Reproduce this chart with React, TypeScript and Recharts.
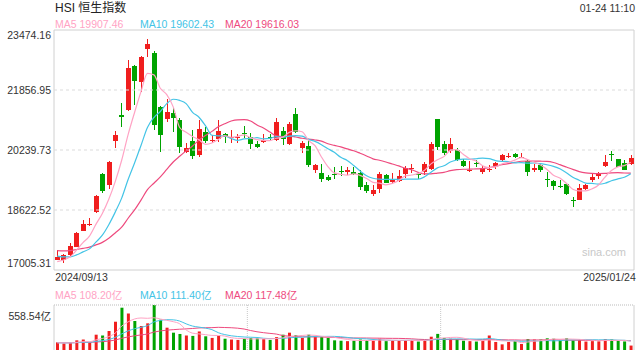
import React from 'react';
import { ComposedChart, Bar, Line, XAxis, YAxis, ReferenceLine, ReferenceArea, Cell } from 'recharts';

const DATES = [
  '2024/09/13','2024/09/16','2024/09/17','2024/09/19','2024/09/20','2024/09/23','2024/09/24','2024/09/25','2024/09/26','2024/09/27','2024/09/30',
  '2024/10/02','2024/10/03','2024/10/04','2024/10/07','2024/10/08','2024/10/09','2024/10/10','2024/10/14','2024/10/15','2024/10/16','2024/10/17','2024/10/18',
  '2024/10/21','2024/10/22','2024/10/23','2024/10/24','2024/10/25','2024/10/28','2024/10/29','2024/10/30','2024/10/31',
  '2024/11/01','2024/11/04','2024/11/05','2024/11/06','2024/11/07','2024/11/08','2024/11/11','2024/11/12','2024/11/13','2024/11/14','2024/11/15',
  '2024/11/18','2024/11/19','2024/11/20','2024/11/21','2024/11/22','2024/11/25','2024/11/26','2024/11/27','2024/11/28','2024/11/29',
  '2024/12/02','2024/12/03','2024/12/04','2024/12/05','2024/12/06','2024/12/09','2024/12/10','2024/12/11','2024/12/12','2024/12/13',
  '2024/12/16','2024/12/17','2024/12/18','2024/12/19','2024/12/20','2024/12/23','2024/12/24','2024/12/27','2024/12/30','2024/12/31',
  '2025/01/02','2025/01/03','2025/01/06','2025/01/07','2025/01/08','2025/01/09','2025/01/10','2025/01/13','2025/01/14','2025/01/15',
  '2025/01/16','2025/01/17','2025/01/20','2025/01/21','2025/01/22','2025/01/23','2025/01/24',
];

const OPEN = [
  17300,17300,17410,17640,18070,18230,18570,19590,19300,20460,21180,
  21320,22510,22050,22960,22860,21400,21050,21230,21050,20170,20490,20110,
  20730,20480,20550,20680,20560,20590,20710,20580,20400,
  20440,20580,20530,20760,20420,21200,20280,20350,19690,19610,19520,
  19600,19680,19650,19660,19610,19300,19050,19190,19570,19360,
  19420,19590,19720,19580,19660,19750,21070,20400,20220,20240,
  19940,19690,19880,19640,19700,19810,19950,20070,20130,20050,
  19930,19700,19830,19470,19410,19260,19330,18900,18910,19190,
  19450,19520,19820,20130,19990,19900,19860,
];
const HIGH = [
  17540,17430,17730,18040,18350,18410,19020,19630,19950,20750,21510,
  22670,22530,22760,23241,22920,21420,21610,21370,21100,20420,20780,21060,
  20850,20640,21060,20710,20780,20670,20890,20690,20480,
  20660,20660,21100,20850,21000,21360,20470,20530,19870,19860,19570,
  19790,19800,19790,19780,19700,19390,19300,19660,19600,19630,
  19700,19800,19850,19620,19920,20460,21080,20490,20560,20290,
  20010,19950,19960,19800,19840,19920,20130,20160,20160,20160,
  19960,19870,19860,19660,19440,19420,19360,18980,19330,19330,
  19580,19650,20100,20220,20010,19960,20100,
];
const LOW = [
  17270,17190,17390,17620,18060,18200,18550,19090,19180,20285,20870,
  21300,21450,21810,22750,20780,20190,21000,20730,20150,20150,19995,20060,
  20420,20420,20460,20440,20440,20440,20570,20270,20290,
  20420,20480,20490,20370,20380,20700,20150,19770,19610,19390,19400,
  19450,19550,19560,19560,19150,19090,19000,19080,19340,19330,
  19380,19480,19620,19470,19560,19700,20250,20100,20150,19930,
  19770,19660,19790,19600,19640,19740,19930,20020,20020,20020,
  19540,19660,19650,19250,19150,19220,19040,18690,18880,19150,
  19380,19450,19780,19930,19770,19690,19840,
];
const CLOSE = [
  17369,17422,17660,18013,18258,18247,19000,19129,19925,20632,21134,
  22444,22114,22737,23100,20927,20637,21252,21093,20319,20287,20079,20804,
  20478,20499,20760,20590,20590,20599,20701,20381,20317,
  20506,20568,21007,20538,20953,20728,20427,19847,19823,19436,19426,
  19577,19664,19705,19601,19230,19151,19159,19603,19367,19424,
  19550,19746,19742,19560,19866,20414,20311,20155,20397,19971,
  19795,19700,19865,19753,19721,19883,20098,20090,20041,20060,
  19623,19760,19688,19448,19280,19241,19064,18874,19220,19286,
  19523,19584,19926,20107,19779,19701,20026,
];
// turnover, 亿
const VOLUME = [
  95,80,90,120,130,95,190,180,236,351,525,
  453,360,298,331,558.54,376,277,215,199,180,175,230,
  170,150,175,140,130,125,140,150,145,
  135,125,160,190,215,185,150,190,170,160,150,
  120,115,110,115,130,120,115,140,110,120,
  115,120,125,105,125,165,200,150,140,135,
  115,110,105,115,180,100,70,100,110,75,
  135,130,130,145,140,125,145.6,120,130,105,
  110,108,135,130,115,106,55,
];
// the 19 sessions before 2024/09/13, used to seed the moving averages
const PRIOR_CLOSE = [17570,17511,17391,17641,17612,17799,17755,17692,17786,17989,17651,17651,17457,17444,17444,17197,17234,17109,17240];
const PRIOR_VOLUME = [92,88,85,95,90,84,98,96,88,92,105,90,86,94,88,80,96,85,90];

const PRICE_TICKS = [17005.31, 18622.52, 20239.73, 21856.95, 23474.16];
const VOLUME_TICKS = [0, 558.54];
const PRICE_LEGEND = [['MA5', '19907.46'], ['MA10', '19602.43'], ['MA20', '19616.03']];
const VOLUME_LEGEND = [['MA5', '108.20亿'], ['MA10', '111.40亿'], ['MA20', '117.48亿']];

const RED = '#f01e1e';
const GREEN = '#00a300';
const MA_COLORS = ['#ffa3c4', '#44c4e6', '#ee4a7e'];
const FONT = '"Liberation Sans", Arial, "Noto Sans CJK SC", sans-serif';

function movingAverage(prior: number[], values: number[], n: number): number[] {
  const all = prior.concat(values);
  return values.map((_, i) => {
    const end = prior.length + i + 1;
    const start = Math.max(0, end - n);
    let s = 0;
    for (let k = start; k < end; k++) s += all[k];
    return s / (end - start);
  });
}

const cMa5 = movingAverage(PRIOR_CLOSE, CLOSE, 5);
const cMa10 = movingAverage(PRIOR_CLOSE, CLOSE, 10);
const cMa20 = movingAverage(PRIOR_CLOSE, CLOSE, 20);
const vMa5 = movingAverage(PRIOR_VOLUME, VOLUME, 5);
const vMa10 = movingAverage(PRIOR_VOLUME, VOLUME, 10);
const vMa20 = movingAverage(PRIOR_VOLUME, VOLUME, 20);

const rows = DATES.map((date, i) => ({
  date,
  open: OPEN[i],
  high: HIGH[i],
  low: LOW[i],
  close: CLOSE[i],
  range: [LOW[i], HIGH[i]],
  ma5: cMa5[i],
  ma10: cMa10[i],
  ma20: cMa20[i],
  vol: VOLUME[i],
  vma5: vMa5[i],
  vma10: vMa10[i],
  vma20: vMa20[i],
}));

const Candle = (props: any) => {
  const { x, y, width, height, payload } = props;
  if (x == null || y == null) return null;
  const { open, close, high, low } = payload;
  const top = Math.min(y, y + height);
  const h = Math.abs(height);
  const span = high - low || 1;
  const pos = (v: number) => top + ((high - v) / span) * h;
  const yo = pos(open);
  const yc = pos(close);
  const color = close >= open ? RED : GREEN;
  const cx = Math.floor(x + width / 2) + 0.5;
  const bTop = Math.round(Math.min(yo, yc));
  const bH = Math.max(1, Math.round(Math.abs(yo - yc)));
  return (
    <g shapeRendering="crispEdges">
      <line x1={cx} x2={cx} y1={top} y2={top + h} stroke={color} strokeWidth={1} />
      <rect x={cx - 2.5} y={bTop} width={5} height={bH} fill={color} />
    </g>
  );
};

const PriceTick = (props: any) => {
  const { x, y, payload } = props;
  const v = payload.value;
  let dy = 4;
  if (v === PRICE_TICKS[0]) dy = -3;
  if (v === PRICE_TICKS[PRICE_TICKS.length - 1]) dy = 9;
  return (
    <text x={x - 3} y={y + dy} textAnchor="end" fontSize={10.5} fill="#333" fontFamily={FONT}>
      {v.toFixed(2)}
    </text>
  );
};

const VolumeTick = (props: any) => {
  const { x, y, payload } = props;
  const v = payload.value;
  const isTop = v === VOLUME_TICKS[VOLUME_TICKS.length - 1];
  return (
    <text x={x - 3} y={y + (isTop ? 11 : -2)} textAnchor="end" fontSize={10.5} fill="#333" fontFamily={FONT}>
      {isTop ? `${v.toFixed(2)}亿` : '0'}
    </text>
  );
};

const DateTick = (props: any) => {
  const { x, y, payload } = props;
  const first = payload.value === DATES[0];
  return (
    <text x={first ? x - 2 : x + 5} y={y + 11} textAnchor={first ? 'start' : 'end'} fontSize={10.5} fill="#333" fontFamily={FONT}>
      {payload.value}
    </text>
  );
};

const Legend = ({ items, top }: { items: string[][]; top: number }) => {
  const lefts = [55, 140, 225];
  return (
    <>
      {items.map((it, i) => (
        <div
          key={it[0]}
          style={{ position: 'absolute', left: lefts[i], top, height: 14, lineHeight: '14px', fontSize: 10.5, color: MA_COLORS[i], fontFamily: FONT, whiteSpace: 'nowrap' }}
        >
          {it[0]} {it[1]}
        </div>
      ))}
    </>
  );
};

export default function App() {
  return (
    <div style={{ position: 'absolute', left: 0, top: 0, width: 640, height: 360, background: '#fff', fontFamily: FONT }}>
      <div style={{ position: 'absolute', left: 55, top: 1, height: 14, lineHeight: '14px', fontSize: 12, color: '#222' }}>HSI 恒生指数</div>
      <div style={{ position: 'absolute', right: 5, top: 1, height: 14, lineHeight: '14px', fontSize: 10.5, color: '#333' }}>01-24 11:10</div>
      <Legend items={PRICE_LEGEND} top={17} />

      <div style={{ position: 'absolute', left: 0, top: 0 }}>
        <ComposedChart width={640} height={290} data={rows} margin={{ top: 30, right: 6, bottom: 4, left: 0 }}>
          <XAxis
            dataKey="date"
            height={16}
            axisLine={false}
            tickLine={false}
            tickSize={0}
            tickMargin={0}
            interval={0}
            ticks={[DATES[0], DATES[DATES.length - 1]]}
            tick={<DateTick />}
          />
          <YAxis
            type="number"
            width={54}
            domain={[PRICE_TICKS[0], PRICE_TICKS[PRICE_TICKS.length - 1]]}
            ticks={PRICE_TICKS}
            allowDataOverflow
            axisLine={false}
            tickLine={false}
            tickSize={0}
            tickMargin={0}
            tick={<PriceTick />}
          />
          {PRICE_TICKS.slice(1, -1).map((v) => (
            <ReferenceLine key={v} y={v} stroke="#dcdcdc" strokeDasharray="3 3" strokeWidth={1.2} />
          ))}
          <ReferenceArea
            y1={PRICE_TICKS[0]}
            y2={PRICE_TICKS[PRICE_TICKS.length - 1]}
            fill="none"
            fillOpacity={0}
            stroke="#d0d0d0"
            strokeWidth={1}
          />
          <Bar dataKey="range" barSize={5} shape={Candle} isAnimationActive={false} />
          <Line dataKey="ma20" stroke={MA_COLORS[2]} strokeWidth={1.2} dot={false} isAnimationActive={false} type="monotone" />
          <Line dataKey="ma10" stroke={MA_COLORS[1]} strokeWidth={1.2} dot={false} isAnimationActive={false} type="monotone" />
          <Line dataKey="ma5" stroke={MA_COLORS[0]} strokeWidth={1.2} dot={false} isAnimationActive={false} type="monotone" />
        </ComposedChart>
      </div>

      <div style={{ position: 'absolute', left: 582, top: 245, height: 14, lineHeight: '14px', fontSize: 11, color: '#c8c8c8' }}>sina.com</div>

      <Legend items={VOLUME_LEGEND} top={288} />

      <div style={{ position: 'absolute', left: 0, top: 300 }}>
        <ComposedChart width={640} height={56} data={rows} margin={{ top: 5, right: 6, bottom: 6, left: 0 }}>
          <XAxis dataKey="date" hide />
          <YAxis
            type="number"
            width={54}
            domain={[VOLUME_TICKS[0], VOLUME_TICKS[1]]}
            ticks={VOLUME_TICKS}
            allowDataOverflow
            axisLine={false}
            tickLine={false}
            tickSize={0}
            tickMargin={0}
            tick={<VolumeTick />}
          />
          <ReferenceLine y={VOLUME_TICKS[1]} stroke="#bbbbbb" strokeDasharray="1 1" />
          <ReferenceLine x={DATES[30]} position="start" stroke="#c8c8c8" strokeDasharray="1 1" />
          <ReferenceLine x={DATES[60]} position="start" stroke="#c8c8c8" strokeDasharray="1 1" />
          <ReferenceLine x={DATES[0]} position="start" stroke="#d0d0d0" />
          <ReferenceLine x={DATES[DATES.length - 1]} position="end" stroke="#d0d0d0" />
          <Bar dataKey="vol" barSize={3} isAnimationActive={false}>
            {rows.map((r, i) => (
              <Cell key={i} fill={r.close >= r.open ? RED : GREEN} />
            ))}
          </Bar>
          <Line dataKey="vma20" stroke={MA_COLORS[2]} strokeWidth={1} dot={false} isAnimationActive={false} type="monotone" />
          <Line dataKey="vma10" stroke={MA_COLORS[1]} strokeWidth={1} dot={false} isAnimationActive={false} type="monotone" />
          <Line dataKey="vma5" stroke={MA_COLORS[0]} strokeWidth={1} dot={false} isAnimationActive={false} type="monotone" />
        </ComposedChart>
      </div>
    </div>
  );
}
